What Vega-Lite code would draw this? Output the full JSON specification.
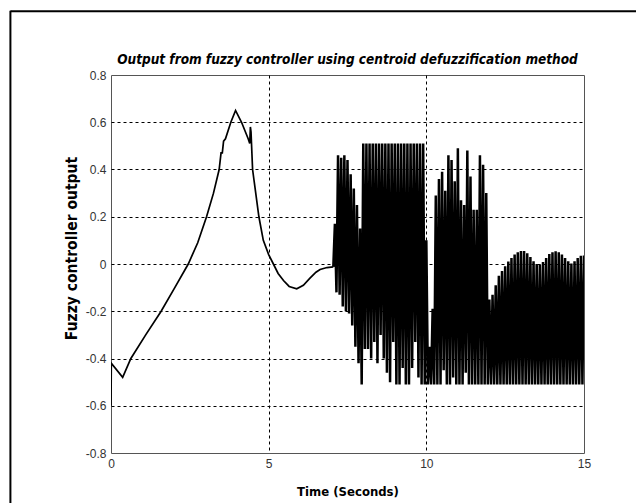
{
  "$schema": "https://vega.github.io/schema/vega-lite/v6.json",
  "width": 473,
  "height": 378,
  "autosize": {"type": "none"},
  "padding": {"left": 111, "top": 75, "right": 52, "bottom": 50},
  "background": "white",
  "title": {
    "text": "Output from fuzzy controller using centroid defuzzification method",
    "font": "Liberation Sans Narrow, DejaVu Sans Condensed, Liberation Sans, sans-serif",
    "fontSize": 13.5,
    "fontWeight": "bold",
    "fontStyle": "italic",
    "color": "black",
    "frame": "group",
    "anchor": "middle",
    "baseline": "alphabetic",
    "offset": -68
  },
  "datasets": {
    "signal": [
      {"t":0,"y":-0.6},{"t":0.01,"y":-0.42},{"t":0.37,"y":-0.48},{"t":0.63,"y":-0.4},{"t":1.1,"y":-0.3},{"t":1.59,"y":-0.2},{"t":2.0,"y":-0.105},{"t":2.45,"y":0},{"t":2.75,"y":0.09},{"t":3.03,"y":0.2},{"t":3.25,"y":0.3},{"t":3.43,"y":0.4},{"t":3.49,"y":0.47},{"t":3.53,"y":0.47},{"t":3.57,"y":0.52},{"t":3.63,"y":0.53},{"t":3.8,"y":0.6},{"t":3.95,"y":0.65},{"t":4.14,"y":0.6},{"t":4.35,"y":0.53},{"t":4.4,"y":0.51},{"t":4.42,"y":0.58},{"t":4.44,"y":0.56},{"t":4.49,"y":0.4},{"t":4.59,"y":0.3},{"t":4.69,"y":0.2},{"t":4.83,"y":0.1},{"t":5.0,"y":0.04},{"t":5.15,"y":0},{"t":5.3,"y":-0.04},{"t":5.47,"y":-0.07},{"t":5.65,"y":-0.095},{"t":5.89,"y":-0.105},{"t":6.1,"y":-0.09},{"t":6.31,"y":-0.06},{"t":6.5,"y":-0.035},{"t":6.63,"y":-0.023},{"t":6.85,"y":-0.015},{"t":7.05,"y":-0.012},
      {"t":7.10,"y":0.17},{"t":7.15,"y":-0.12},{"t":7.20,"y":0.46},{"t":7.25,"y":-0.13},{"t":7.30,"y":0.45},{"t":7.35,"y":-0.18},{"t":7.40,"y":0.46},{"t":7.45,"y":-0.2},{"t":7.50,"y":0.44},{"t":7.55,"y":-0.21},{"t":7.60,"y":0.38},{"t":7.65,"y":-0.26},{"t":7.70,"y":0.32},{"t":7.75,"y":-0.35},{"t":7.80,"y":0.25},{"t":7.85,"y":-0.42},{"t":7.90,"y":0.15},{"t":7.95,"y":-0.51},
      {"t":8.00,"y":0.51},{"t":8.05,"y":-0.36},{"t":8.10,"y":0.51},{"t":8.15,"y":-0.36},{"t":8.20,"y":0.51},{"t":8.25,"y":-0.4},{"t":8.30,"y":0.51},{"t":8.35,"y":-0.33},{"t":8.40,"y":0.51},{"t":8.45,"y":-0.42},{"t":8.50,"y":0.51},{"t":8.55,"y":-0.3},{"t":8.60,"y":0.51},{"t":8.65,"y":-0.4},{"t":8.70,"y":0.51},{"t":8.75,"y":-0.46},{"t":8.80,"y":0.51},{"t":8.85,"y":-0.5},{"t":8.90,"y":0.51},{"t":8.95,"y":-0.33},
      {"t":9.00,"y":0.51},{"t":9.05,"y":-0.51},{"t":9.10,"y":0.51},{"t":9.15,"y":-0.51},{"t":9.20,"y":0.51},{"t":9.25,"y":-0.44},{"t":9.30,"y":0.51},{"t":9.35,"y":-0.51},{"t":9.40,"y":0.51},{"t":9.45,"y":-0.51},{"t":9.50,"y":0.51},{"t":9.55,"y":-0.44},{"t":9.60,"y":0.51},{"t":9.65,"y":-0.33},{"t":9.70,"y":0.51},{"t":9.75,"y":-0.48},{"t":9.80,"y":0.51},{"t":9.85,"y":-0.51},{"t":9.90,"y":0.51},{"t":9.95,"y":-0.51},
      {"t":10.00,"y":0.1},{"t":10.05,"y":-0.51},{"t":10.10,"y":-0.35},{"t":10.15,"y":-0.51},{"t":10.20,"y":-0.19},{"t":10.25,"y":-0.51},{"t":10.30,"y":0.29},{"t":10.35,"y":-0.51},{"t":10.40,"y":0.36},{"t":10.45,"y":-0.51},{"t":10.50,"y":0.39},{"t":10.55,"y":-0.45},{"t":10.60,"y":0.31},{"t":10.65,"y":-0.51},{"t":10.70,"y":0.46},{"t":10.75,"y":-0.51},{"t":10.80,"y":0.44},{"t":10.85,"y":-0.48},{"t":10.90,"y":0.35},{"t":10.95,"y":-0.51},
      {"t":11.00,"y":0.49},{"t":11.05,"y":-0.51},{"t":11.10,"y":0.27},{"t":11.15,"y":-0.51},{"t":11.20,"y":0.25},{"t":11.25,"y":-0.46},{"t":11.30,"y":0.48},{"t":11.35,"y":-0.51},{"t":11.40,"y":0.37},{"t":11.45,"y":-0.51},{"t":11.50,"y":0.23},{"t":11.55,"y":-0.51},{"t":11.60,"y":0.23},{"t":11.65,"y":-0.51},{"t":11.70,"y":0.46},{"t":11.75,"y":-0.51},{"t":11.80,"y":0.42},{"t":11.85,"y":-0.51},{"t":11.90,"y":0.3},{"t":11.95,"y":-0.51},
      {"t":12.00,"y":-0.15},{"t":12.05,"y":-0.51},{"t":12.10,"y":-0.13},{"t":12.15,"y":-0.51},{"t":12.20,"y":-0.09},{"t":12.25,"y":-0.51},{"t":12.30,"y":-0.05},{"t":12.35,"y":-0.51},{"t":12.40,"y":-0.03},{"t":12.45,"y":-0.51},{"t":12.50,"y":-0.01},{"t":12.55,"y":-0.51},{"t":12.60,"y":0.01},{"t":12.65,"y":-0.51},{"t":12.70,"y":0.025},{"t":12.75,"y":-0.51},{"t":12.80,"y":0.04},{"t":12.85,"y":-0.51},{"t":12.90,"y":0.05},{"t":12.95,"y":-0.51},
      {"t":13.00,"y":0.055},{"t":13.05,"y":-0.51},{"t":13.10,"y":0.055},{"t":13.15,"y":-0.51},{"t":13.20,"y":0.045},{"t":13.25,"y":-0.51},{"t":13.30,"y":0.03},{"t":13.35,"y":-0.51},{"t":13.40,"y":0.012},{"t":13.45,"y":-0.51},{"t":13.50,"y":0},{"t":13.55,"y":-0.51},{"t":13.60,"y":-0.002},{"t":13.65,"y":-0.51},{"t":13.70,"y":0.008},{"t":13.75,"y":-0.51},{"t":13.80,"y":0.025},{"t":13.85,"y":-0.51},{"t":13.90,"y":0.042},{"t":13.95,"y":-0.51},
      {"t":14.00,"y":0.05},{"t":14.05,"y":-0.51},{"t":14.10,"y":0.054},{"t":14.15,"y":-0.51},{"t":14.20,"y":0.05},{"t":14.25,"y":-0.51},{"t":14.30,"y":0.04},{"t":14.35,"y":-0.51},{"t":14.40,"y":0.025},{"t":14.45,"y":-0.51},{"t":14.50,"y":0.012},{"t":14.55,"y":-0.51},{"t":14.60,"y":0.002},{"t":14.65,"y":-0.51},{"t":14.70,"y":0.012},{"t":14.75,"y":-0.51},{"t":14.80,"y":0.025},{"t":14.85,"y":-0.51},{"t":14.90,"y":0.035},{"t":14.95,"y":-0.51},{"t":15.00,"y":0.036}
    ],
    "frame": [{}]
  },
  "config": {
    "view": {"stroke": "#555", "strokeWidth": 1},
    "axis": {
      "domain": false,
      "ticks": false,
      "grid": true,
      "gridColor": "black",
      "gridDash": [3, 3],
      "gridWidth": 1,
      "labelFont": "Liberation Sans",
      "labelFontSize": 12,
      "labelColor": "#333",
      "titleFont": "Liberation Sans Narrow, DejaVu Sans Condensed, Liberation Sans, sans-serif",
      "titleFontWeight": "bold",
      "titleColor": "black"
    }
  },
  "layer": [
    {
      "data": {"name": "signal"},
      "transform": [{"filter": "datum.t <= 7.05"}],
      "mark": {"type": "line", "color": "black", "strokeWidth": 1.7, "clip": true},
      "encoding": {
        "x": {
          "field": "t",
          "type": "quantitative",
          "scale": {"domain": [0, 15], "nice": false, "zero": false},
          "axis": {
            "title": "Time (Seconds)",
            "values": [0, 5, 10, 15],
            "format": "d",
            "labelFlush": false,
            "labelOverlap": false,
            "labelPadding": 5,
            "titleFontSize": 13,
            "titleY": 42,
            "titleBaseline": "alphabetic",
            "gridOpacity": {"condition": {"test": "datum.value == 0 || datum.value == 15", "value": 0}, "value": 1}
          }
        },
        "y": {
          "field": "y",
          "type": "quantitative",
          "scale": {"domain": [-0.8, 0.8], "nice": false, "zero": false},
          "axis": {
            "title": "Fuzzy controller output",
            "values": [-0.8, -0.6, -0.4, -0.2, 0, 0.2, 0.4, 0.6, 0.8],
            "labelExpr": "abs(datum.value) < 0.001 ? '0' : (datum.value < 0 ? '-' + format(-datum.value, '.1f') : format(datum.value, '.1f'))",
            "labelPadding": 5,
            "labelOverlap": false,
            "titleFontSize": 15.5,
            "titleX": -35,
            "titleY": 173,
            "titleAngle": -90,
            "titleAlign": "center",
            "titleBaseline": "alphabetic",
            "gridOpacity": {"condition": {"test": "abs(datum.value) > 0.79", "value": 0}, "value": 1}
          }
        }
      }
    },
    {
      "data": {"name": "signal"},
      "transform": [{"filter": "datum.t >= 7.05"}],
      "mark": {"type": "line", "color": "black", "strokeWidth": 2.5, "clip": true},
      "encoding": {
        "x": {"field": "t", "type": "quantitative"},
        "y": {"field": "y", "type": "quantitative"}
      }
    },
    {
      "data": {"name": "frame"},
      "mark": {"type": "rule", "stroke": "black", "strokeWidth": 2, "clip": false},
      "encoding": {
        "x": {"datum": -3.19, "type": "quantitative"},
        "x2": {"datum": 20},
        "y": {"datum": 1.07, "type": "quantitative"}
      }
    },
    {
      "data": {"name": "frame"},
      "mark": {"type": "rule", "stroke": "black", "strokeWidth": 2, "clip": false},
      "encoding": {
        "x": {"datum": -3.19, "type": "quantitative"},
        "y": {"datum": 1.072, "type": "quantitative"},
        "y2": {"datum": -1.3}
      }
    }
  ]
}
